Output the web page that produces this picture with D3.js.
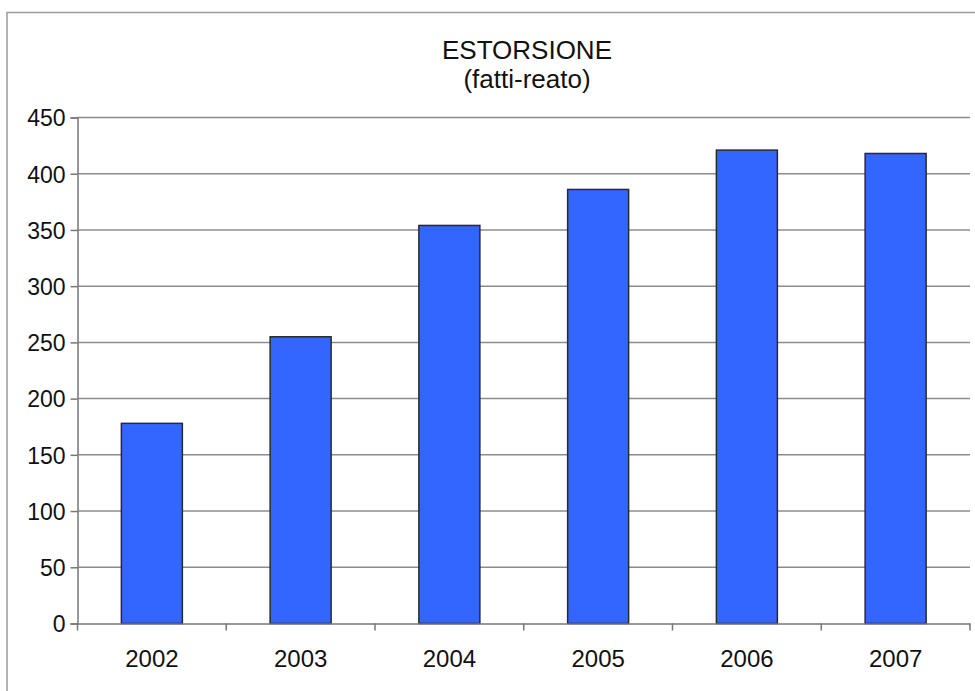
<!DOCTYPE html>
<html><head><meta charset="utf-8">
<script src="https://cdn.jsdelivr.net/npm/d3@7"></script>
<style>body{margin:0;background:#fff;} text{font-family:"Liberation Sans",Arial,sans-serif;fill:#111;}</style>
</head><body>
<script>
const years = ["2002","2003","2004","2005","2006","2007"];
const values = [178, 255, 354, 386, 421, 418];
const yTicks = [0,50,100,150,200,250,300,350,400,450];
const titleLines = ["ESTORSIONE","(fatti-reato)"];

const W=975,H=691;
const svg=d3.select("body").append("svg").attr("width",W).attr("height",H);
// outer frame
svg.append("rect").attr("x",7).attr("y",12.5).attr("width",1100).attr("height",1000)
  .attr("fill","none").attr("stroke","#9a9a9a").attr("stroke-width",1.5);

const m={left:77.5,right:970,top:117.5,bottom:623.5};
const x=d3.scaleBand().domain(years).range([m.left,m.right]).paddingInner(0.59).paddingOuter(0.295);
const xb=d3.scaleBand().domain(years).range([m.left,m.right]);
const y=d3.scaleLinear().domain([0,450]).range([m.bottom,m.top]);

// gridlines
svg.append("g").selectAll("line").data(yTicks.filter(d=>d>0)).join("line")
  .attr("x1",m.left).attr("x2",m.right).attr("y1",d=>y(d)).attr("y2",d=>y(d))
  .attr("stroke","#8c8c8c").attr("stroke-width",1.5);

// y axis
const ya=svg.append("g").attr("transform",`translate(${m.left},0)`)
  .call(d3.axisLeft(y).tickValues(yTicks).tickSize(7).tickPadding(5));
ya.select(".domain").attr("stroke","#777").attr("stroke-width",1.5);
ya.selectAll(".tick line").attr("stroke","#777").attr("stroke-width",1.5);
ya.selectAll("text").style("font-size","23px").attr("fill","#111").attr("dy","0.36em");

// bars
svg.append("g").selectAll("rect").data(values).join("rect")
  .attr("x",(d,i)=>x(years[i])).attr("width",x.bandwidth())
  .attr("y",d=>y(d)).attr("height",d=>y(0)-y(d))
  .attr("fill","#3366FF").attr("stroke","#2a2a2a").attr("stroke-width",1.5);

// x axis
const xa=svg.append("g").attr("transform",`translate(0,${m.bottom})`)
  .call(d3.axisBottom(xb).tickSize(0).tickPadding(26));
xa.select(".domain").attr("stroke","#777").attr("stroke-width",1.5);
xa.selectAll("text").style("font-size","24px").attr("fill","#111");
// category boundary ticks
const bounds=[m.left].concat(years.map(d=>xb(d)+xb.bandwidth()));
svg.append("g").selectAll("line").data(bounds).join("line")
  .attr("x1",d=>d).attr("x2",d=>d).attr("y1",m.bottom).attr("y2",m.bottom+7)
  .attr("stroke","#777").attr("stroke-width",1.5);

// title
svg.append("g").selectAll("text").data(titleLines).join("text")
  .attr("x",527).attr("y",(d,i)=>59+i*29).attr("text-anchor","middle")
  .style("font-size","26px").text(d=>d);
</script>
</body></html>
